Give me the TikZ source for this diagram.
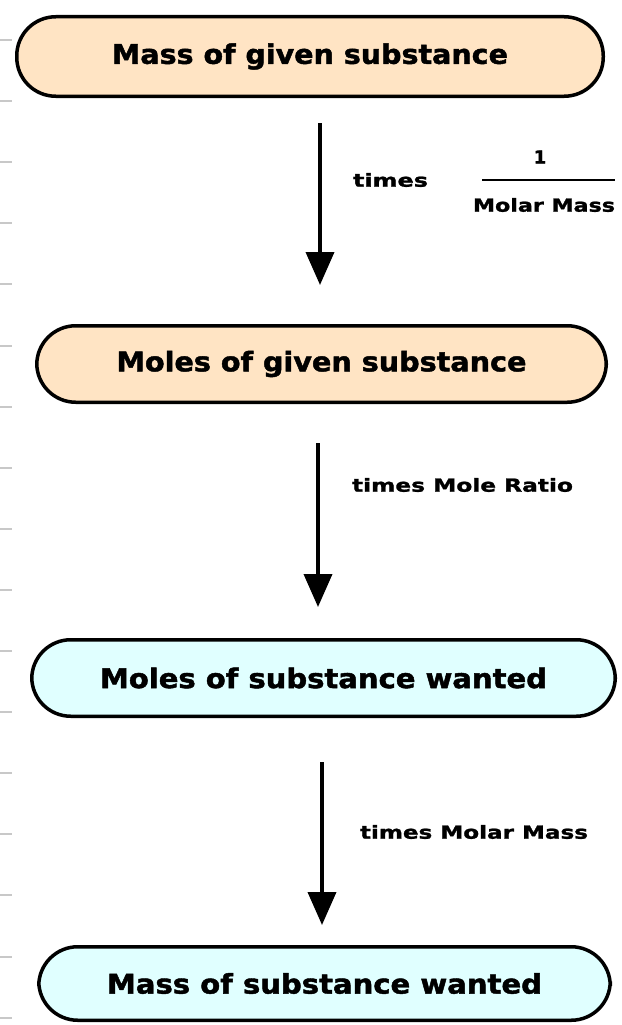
\documentclass[tikz,border=0pt]{standalone}
\usepackage{fontspec}
\usepackage{graphicx}
\setmainfont{DejaVu Sans}
\newfontfamily\stagefont{DejaVu Sans}[BoldFeatures={FakeBold=1.6}]
\newfontfamily\factorfont{DejaVu Sans}[BoldFeatures={FakeBold=1.2}]
\usetikzlibrary{arrows.meta}

\definecolor{peach}{RGB}{255,228,196}
\definecolor{icecyan}{RGB}{224,255,255}
\definecolor{tickgray}{RGB}{200,200,200}

% set a line of text to a given width, keeping its height
\newcommand{\fitw}[2]{\resizebox{#1}{\height}{#2}}

\begin{document}
\begin{tikzpicture}[x=1pt,y=-1pt,
  stagebox/.style={draw=black, line width=3.5pt, rounded corners=39pt,
    inner sep=0pt, outer sep=1.75pt, font=\stagefont\fontsize{27}{30}\selectfont\bfseries},
  given/.style={stagebox, fill=peach},
  wanted/.style={stagebox, fill=icecyan},
  flow/.style={line width=3.8pt, -{Triangle[width=28pt,length=33pt]}},
  steplabel/.style={inner sep=0pt, font=\factorfont\fontsize{18}{20}\selectfont\bfseries},
  marginrule/.style={draw=tickgray, line width=2pt}]

\useasboundingbox (0,0) rectangle (621,1025);

% ruled margin marks
\foreach \k in {0,...,16}
  \draw[marginrule] (0,{40+61.1*\k}) -- (12,{40+61.1*\k});

% the four stages
\node[given, minimum width=586.5pt, minimum height=79.5pt] (massgiven) at (310,56.5)
  {\fitw{396pt}{Mass of given substance}};
\node[given, minimum width=569.5pt, minimum height=76.5pt] (molesgiven) at (321.5,364)
  {\fitw{410pt}{Moles of given substance}};
\node[wanted, minimum width=583.5pt, minimum height=76.5pt] (moleswanted) at (323.5,678)
  {\fitw{447pt}{Moles of substance wanted}};
\node[wanted, minimum width=571.5pt, minimum height=73.5pt] (masswanted) at (324.5,983.5)
  {\fitw{435pt}{Mass of substance wanted}};

% arrow columns
\coordinate (colA) at (320,0);
\coordinate (colB) at (318,0);
\coordinate (colC) at (322,0);

\draw[flow, shorten <=25pt, shorten >=39pt] (massgiven.south -| colA) -- (molesgiven.north -| colA);
\draw[flow, shorten <=39pt, shorten >=31pt] (molesgiven.south -| colB) -- (moleswanted.north -| colB);
\draw[flow, shorten <=44pt, shorten >=20pt] (moleswanted.south -| colC) -- (masswanted.north -| colC);

% conversion factors
\node[steplabel] (timesA) at (390.5,180) {\fitw{75pt}{times}};
\node[steplabel] (one) at (540,157) {1};
\node[steplabel] (molarA) at (544,205) {\fitw{142pt}{Molar Mass}};
\draw[line width=2.2pt] (482,180) -- (615,180);

\node[steplabel] (ratio) at (462.5,485) {\fitw{221pt}{times Mole Ratio}};
\node[steplabel] (molarB) at (474,832) {\fitw{228pt}{times Molar Mass}};
\end{tikzpicture}
\end{document}
